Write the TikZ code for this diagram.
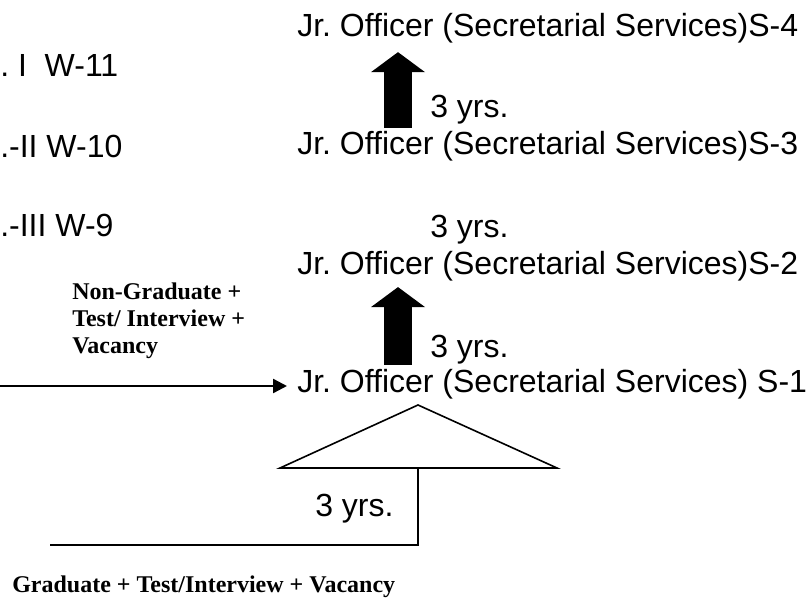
\documentclass[tikz,border=0pt]{standalone}
\usepackage{fontspec}
\setmainfont{Liberation Sans}
\newfontfamily\condfont{Liberation Serif}
\usetikzlibrary{arrows.meta}
\frenchspacing

\begin{document}
\begin{tikzpicture}[x=0.75pt, y=-0.75pt,
    post/.style={anchor=base west, inner sep=0pt, font=\fontsize{24pt}{28pt}\selectfont},
    cond/.style={inner sep=0pt, align=left, font=\condfont\bfseries\fontsize{18pt}{20.25pt}\selectfont},
    bigarrow/.style={line width=21pt, -{Triangle[width=40.5pt, length=15pt, line width=0pt]}},
    thinarrow/.style={line width=1.8pt, -{Triangle[width=10.5pt, length=10.5pt]}},
    outline/.style={line width=1.2pt, line join=miter}]

    \useasboundingbox (0,0) rectangle (807,598);

    % Cut-off posts on the left
    \node[post] (w11) at (0,77) {.\ I\ \ W-11};
    \node[post] (w10) at (0,158) {.-II W-10};
    \node[post] (w9) at (0,237) {.-III W-9};

    % Secretarial posts
    \node[post] (s4) at (297,37) {Jr. Officer (Secretarial Services)S-4};
    \node[post] (s3) at (297,155) {Jr. Officer (Secretarial Services)S-3};
    \node[post] (s2) at (297,275) {Jr. Officer (Secretarial Services)S-2};
    \node[post] (s1) at (297,393) {Jr. Officer (Secretarial Services) S-1};

    \node[post] (y43) at (430,118) {3 yrs.};
    \node[post] (y32) at (430,238) {3 yrs.};
    \node[post] (y21) at (430,358) {3 yrs.};
    \node[post] (yg) at (315,517) {3 yrs.};

    % Entry conditions
    \node[cond, anchor=north west] (nongrad) at (72,283) {Non-Graduate +\\Test/ Interview +\\Vacancy};
    \node[cond, anchor=base west] (grad) at (12,592) {Graduate + Test/Interview + Vacancy};

    % Promotion arrows
    \coordinate (ax) at (398,0);
    \draw[bigarrow, shorten <=2.7pt, shorten >=6.2pt] (s3.north -| ax) -- (s4.south -| ax);
    \draw[bigarrow, shorten <=3.5pt, shorten >=3.9pt] (s1.north -| ax) -- (s2.south -| ax);

    % Direct entry
    \coordinate (ngstart) at (0,386);
    \draw[thinarrow, shorten >=7.5pt] (ngstart) -- (ngstart -| s1.west);

    % Graduate entry
    \coordinate (apex) at (418,405);
    \coordinate (gstart) at (50,545);
    \draw[outline] (apex) -- (557,468) -- (280,468) -- cycle;
    \draw[outline] (apex |- 0,468) -- (apex |- gstart) -- (gstart);

\end{tikzpicture}
\end{document}
